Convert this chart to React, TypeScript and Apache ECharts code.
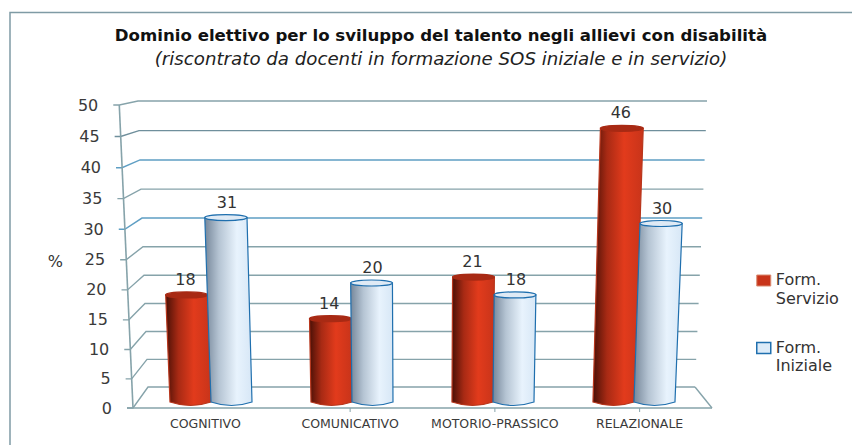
import React, { useEffect, useRef } from "react";
import * as echarts from "echarts";

const titleText = "Dominio elettivo per lo sviluppo del talento negli allievi con disabilità";
const subtitleText = "(riscontrato da docenti in formazione SOS iniziale e in servizio)";
const categories = ["COGNITIVO", "COMUNICATIVO", "MOTORIO-PRASSICO", "RELAZIONALE"];
const servizioName = "Form.\nServizio";
const inizialeName = "Form.\nIniziale";
const servizio = [18, 14, 21, 46];
const iniziale = [31, 20, 18, 30];
const ticks = [0, 5, 10, 15, 20, 25, 30, 35, 40, 45, 50];

const GRID_L = 133, GRID_R = 712, GRID_BOTTOM = 402, GRID_TOP = 104.5;
const CX = 422;
const WALL_COLORS: Record<number, string> = { 40: "#5f9fc4", 30: "#5f9fc4", 45: "#6f8f9c" };

const frontY = (v: number) => 408 - 5.8 * v - 0.0052 * v * v;
const backY = (v: number) => 387 - 5.5 * v - 0.0044 * v * v;
const persp = (x: number, v: number) => CX + (x - CX) * (1 + 0.00095 * v);

function makeBarItem(offset: number, body: any, cap: string, stroke: string, capStroke: string) {
  return (_: any, api: any) => {
    const cat = api.value(0);
    const v = api.value(1);
    const base = api.coord([cat, 0]);
    const top = api.coord([cat, v]);
    const xb = CX + (base[0] - CX) * 0.974 + offset;
    const x0b = persp(xb - 20.5, 0), x1b = persp(xb + 20.5, 0);
    const x0t = persp(xb - 20.5, v), x1t = persp(xb + 20.5, v);
    const yb = base[1], yt = top[1];
    const d = `M${x0t} ${yt}L${x0b} ${yb}Q${(x0b + x1b) / 2} ${yb + 7} ${x1b} ${yb}L${x1t} ${yt}Q${(x0t + x1t) / 2} ${yt + 4} ${x0t} ${yt}Z`;
    return {
      type: "group",
      children: [
        { type: "path", shape: { pathData: d }, style: { fill: body, stroke, lineWidth: 1.2 } },
        {
          type: "ellipse",
          shape: { cx: (x0t + x1t) / 2, cy: yt, rx: (x1t - x0t) / 2, ry: 3 },
          style: { fill: cap, stroke: capStroke, lineWidth: 1.2 },
        },
        {
          type: "text",
          style: {
            x: (x0t + x1t) / 2 + (offset < 0 ? -1 : 1),
            y: yt - 15.5,
            text: String(v),
            fill: "#333333",
            font: '16px "DejaVu Sans"',
            align: "center",
            verticalAlign: "middle",
          },
        },
      ],
    };
  };
}

const wallItem = (_: any, api: any) => {
  const v = api.value(1);
  const leftFront = persp(GRID_L, v);
  const leftBack = 148 - (10 * v) / 50;
  const rightBack = 695 + (12 * v) / 50;
  const color = WALL_COLORS[v] ?? "#86a3aa";
  const lineStyle = { stroke: color, lineWidth: 1.4 };
  return {
    type: "group",
    children: [
      { type: "polyline", shape: { points: [[leftFront - 6, frontY(v)], [leftFront, frontY(v)], [leftBack, backY(v)], [rightBack, backY(v)]] }, style: { ...lineStyle, fill: "none" } },
      {
        type: "text",
        style: {
          x: leftFront - 21,
          y: frontY(v),
          text: String(v),
          fill: "#3a3a3a",
          font: '16px "DejaVu Sans"',
          align: "right",
          verticalAlign: "middle",
        },
      },
    ],
  };
};

const floorItem = (_: any, api: any) => {
  const axisColor = "#86a3aa";
  const y = frontY(0);
  const boundary = [1, 2, 3].map((i) => api.coord([i - 0.5, 0])[0]);
  return {
    type: "group",
    children: [
      { type: "line", shape: { x1: persp(GRID_L, 50), y1: frontY(50), x2: GRID_L, y2: y }, style: { stroke: axisColor, lineWidth: 1.6 } },
      { type: "line", shape: { x1: GRID_L - 6, y1: y, x2: GRID_R, y2: y }, style: { stroke: axisColor, lineWidth: 1.6 } },
      { type: "line", shape: { x1: 695, y1: backY(0), x2: GRID_R, y2: y }, style: { stroke: axisColor, lineWidth: 1.4 } },
      ...boundary.map((x) => ({ type: "line", shape: { x1: x, y1: y, x2: x, y2: y + 4 }, style: { stroke: axisColor, lineWidth: 1 } })),
    ],
  };
};

const redBody = new echarts.graphic.LinearGradient(0, 0, 1, 0, [
  { offset: 0, color: "#4a1006" },
  { offset: 0.28, color: "#a82a14" },
  { offset: 0.62, color: "#e23b1c" },
  { offset: 1, color: "#c8341a" },
]);
const blueBody = new echarts.graphic.LinearGradient(0, 0, 1, 0, [
  { offset: 0, color: "#76879a" },
  { offset: 0.3, color: "#b5c4d3" },
  { offset: 0.68, color: "#e8f3fd" },
  { offset: 1, color: "#d7e7f6" },
]);

const legendIcon = "path://M0 0H14V11H0ZM0 28L0 28";

export default function App() {
  const ref = useRef<HTMLDivElement>(null);
  useEffect(() => {
    const chart = echarts.init(ref.current!, undefined, { renderer: "svg" });
    chart.setOption({
      animation: false,
      backgroundColor: "#ffffff",
      title: {
        text: titleText,
        subtext: subtitleText,
        left: 436,
        top: 22,
        textAlign: "center",
        itemGap: 5,
        textStyle: { fontFamily: "DejaVu Sans", fontWeight: "bold", fontSize: 16.6, color: "#111111" },
        subtextStyle: { fontFamily: "DejaVu Sans", fontStyle: "italic", fontSize: 18.2, color: "#222222" },
      },
      grid: { left: GRID_L, width: GRID_R - GRID_L, top: GRID_TOP, height: GRID_BOTTOM - GRID_TOP },
      xAxis: {
        type: "category",
        data: categories,
        axisLine: { show: false },
        axisTick: { show: false },
        axisLabel: { interval: 0, margin: 15, fontFamily: "DejaVu Sans", fontSize: 12.5, color: "#3a3a3a" },
      },
      yAxis: {
        type: "value",
        min: 0,
        max: 50,
        interval: 5,
        name: "%",
        nameLocation: "middle",
        nameRotate: 0,
        nameGap: 70,
        nameTextStyle: { fontFamily: "DejaVu Sans", fontSize: 16, color: "#333333", verticalAlign: "top" },
        axisLine: { show: false },
        axisTick: { show: false },
        axisLabel: { show: false },
        splitLine: { show: false },
      },
      legend: {
        orient: "vertical",
        left: 756,
        top: 270.5,
        padding: 0,
        itemWidth: 14,
        itemHeight: 28,
        itemGap: 30.5,
        symbolKeepAspect: false,
        selectedMode: false,
        textStyle: { fontFamily: "DejaVu Sans", fontSize: 16, lineHeight: 18.5, color: "#333333" },
        data: [
          { name: servizioName, icon: legendIcon, itemStyle: { color: "#c8341a", borderColor: "#d98a70", borderWidth: 1 } },
          { name: inizialeName, icon: legendIcon, itemStyle: { color: "#dcebf8", borderColor: "#1f6fae", borderWidth: 1.5 } },
        ],
      },
      graphic: [
        {
          type: "rect",
          silent: true,
          z: -1,
          shape: { x: 10, y: 12.5, width: 900, height: 500 },
          style: { fill: "#ffffff", stroke: "#7f9ba5", lineWidth: 1.5 },
        },
      ],
      series: [
        {
          type: "custom",
          name: "wall",
          data: ticks.map((t) => [0, t]),
          renderItem: wallItem,
          encode: { x: 0, y: 1 },
          z: 1,
          silent: true,
        },
        {
          type: "custom",
          name: "floor",
          data: [[0, 0]],
          renderItem: floorItem,
          encode: { x: 0, y: 1 },
          z: 1,
          silent: true,
        },
        {
          type: "custom",
          name: servizioName,
          data: servizio.map((v, i) => [i, v]),
          renderItem: makeBarItem(-20.5, redBody, "#a82a14", "#b8361c", "#a82a14"),
          encode: { x: 0, y: 1 },
          itemStyle: { color: "#c8341a" },
          z: 3,
        },
        {
          type: "custom",
          name: inizialeName,
          data: iniziale.map((v, i) => [i, v]),
          renderItem: makeBarItem(20.5, blueBody, "#dfeaf5", "#1f6fae", "#1f6fae"),
          encode: { x: 0, y: 1 },
          itemStyle: { color: "#dcebf8" },
          z: 4,
        },
      ],
    });
    return () => chart.dispose();
  }, []);
  return <div ref={ref} style={{ position: "fixed", left: 0, top: 0, width: 852, height: 445 }} />;
}
